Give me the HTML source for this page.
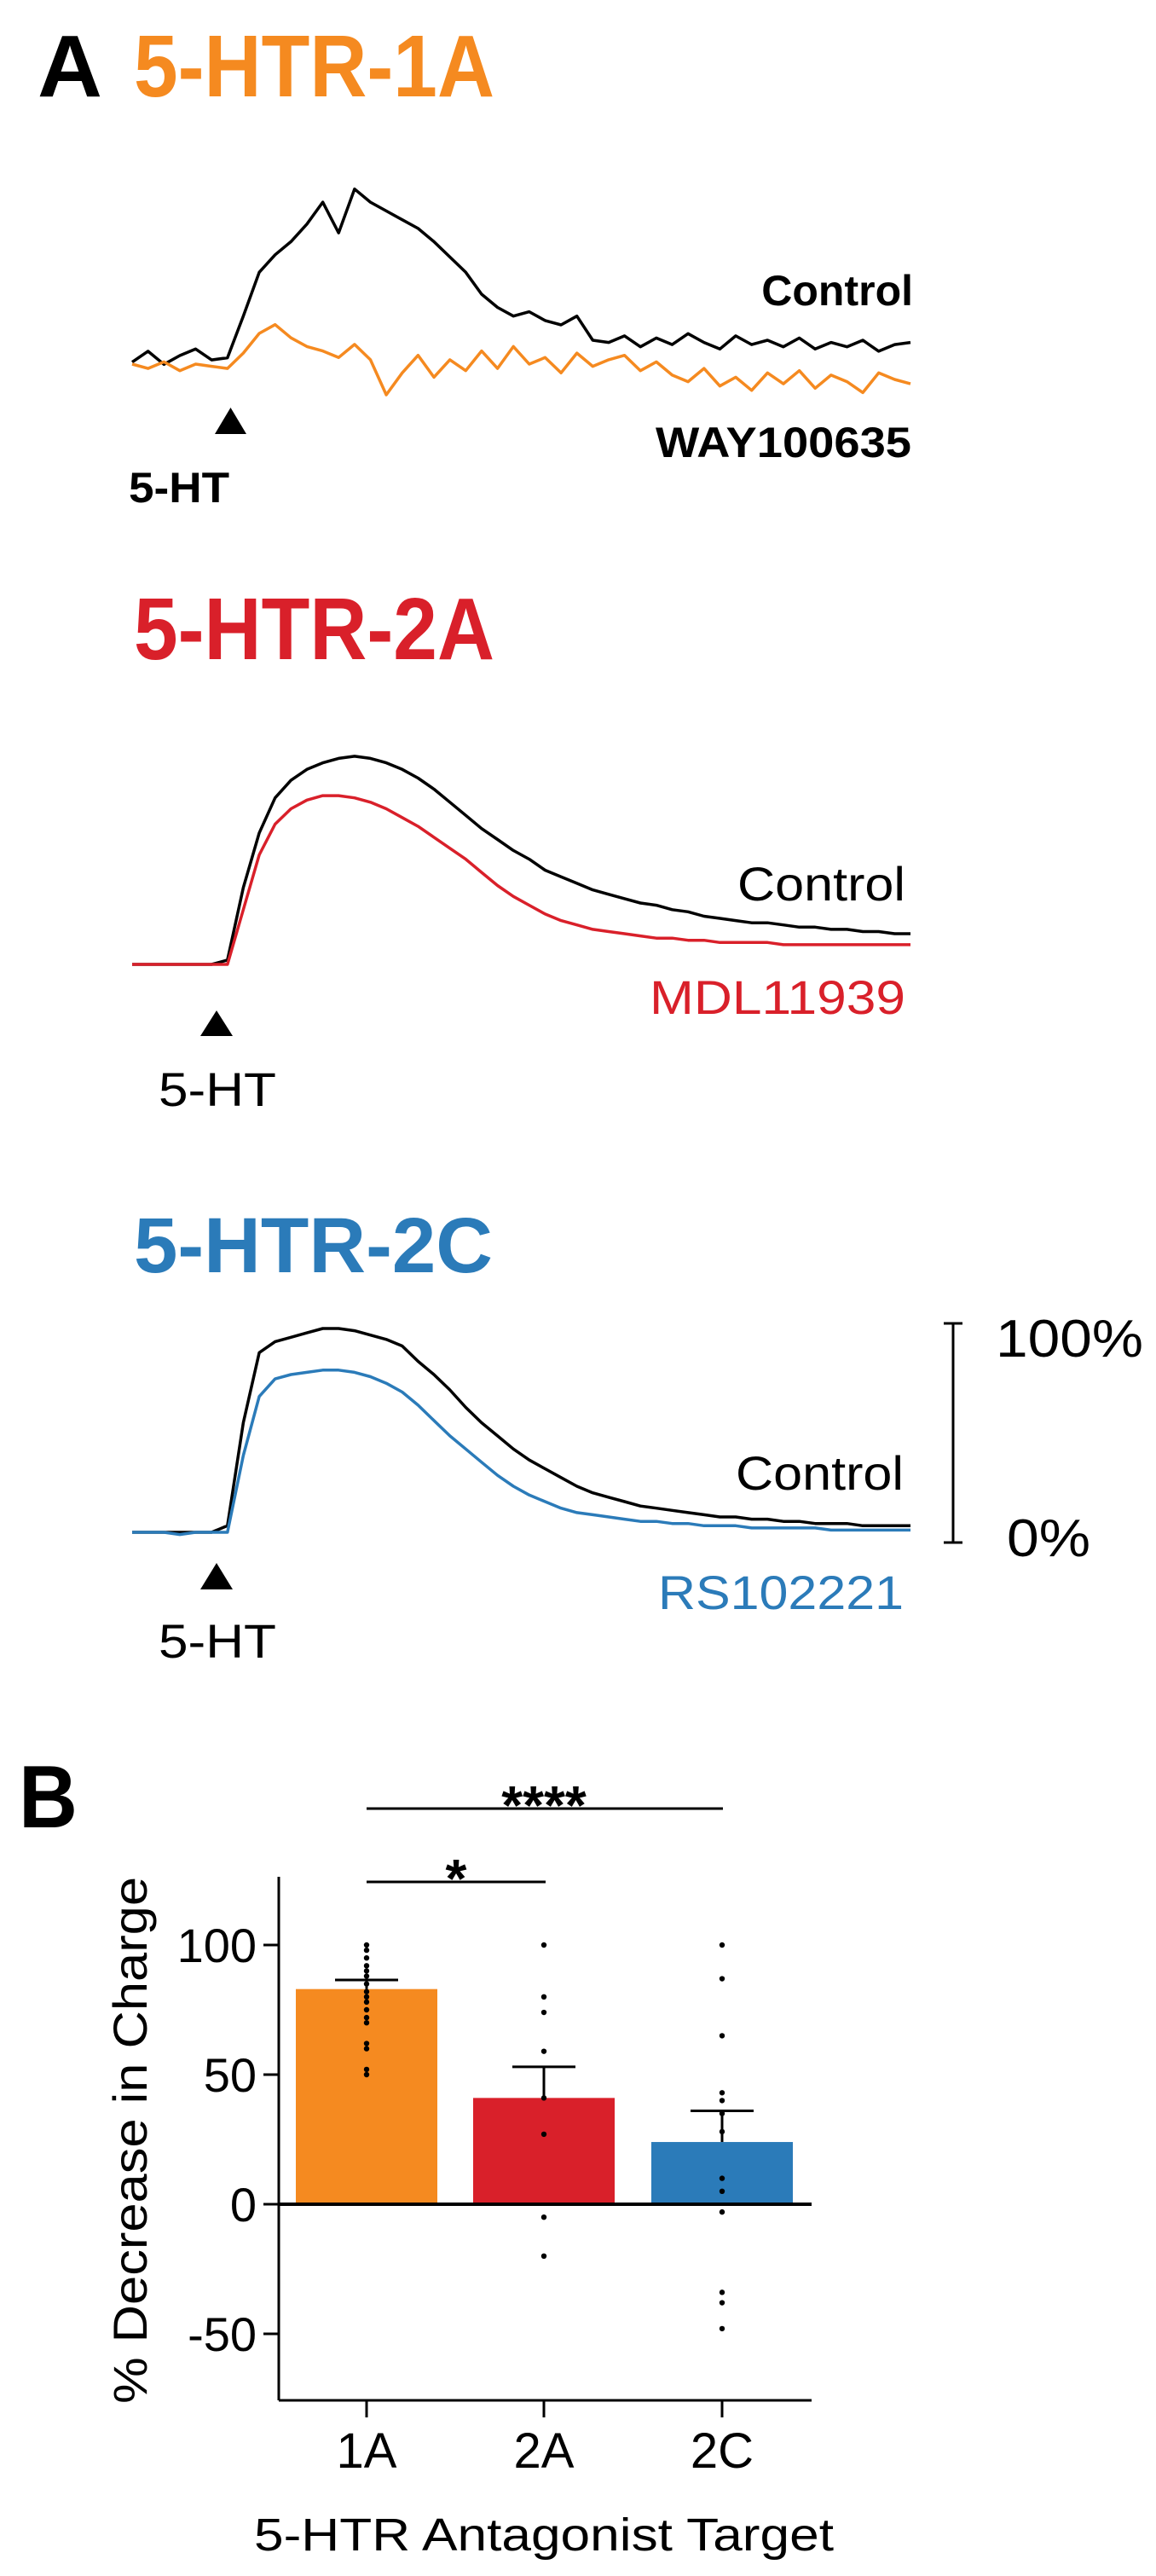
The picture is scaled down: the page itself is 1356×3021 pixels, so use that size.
<!DOCTYPE html>
<html><head><meta charset="utf-8"><style>
html,body{margin:0;padding:0;background:#fff;}
svg{display:block;font-family:"Liberation Sans",Arial,sans-serif;}
</style></head><body>
<svg id="fig" width="1356" height="3021" viewBox="0 0 1356 3021" xmlns="http://www.w3.org/2000/svg">
<g>
<text x="44" y="113" font-size="103" font-weight="bold" textLength="76" lengthAdjust="spacingAndGlyphs">A</text>
<text x="157" y="113" font-size="103" font-weight="bold" fill="#f58a20" textLength="423" lengthAdjust="spacingAndGlyphs">5-HTR-1A</text>
<text x="1071" y="358" font-size="50" font-weight="bold" text-anchor="end">Control</text>
<text x="769" y="536" font-size="50" font-weight="bold" textLength="300" lengthAdjust="spacingAndGlyphs">WAY100635</text>
<path d="M252,509 L289,509 L270.5,478 Z" fill="#000"/>
<text x="151" y="589" font-size="50" font-weight="bold" textLength="118" lengthAdjust="spacingAndGlyphs">5-HT</text>

<text x="157" y="773" font-size="103" font-weight="bold" fill="#d9202a" textLength="423" lengthAdjust="spacingAndGlyphs">5-HTR-2A</text>
<text x="1062" y="1056" font-size="56" text-anchor="end" textLength="197" lengthAdjust="spacingAndGlyphs">Control</text>
<text x="1062" y="1189" font-size="56" fill="#d9202a" text-anchor="end" textLength="300" lengthAdjust="spacingAndGlyphs">MDL11939</text>
<path d="M235,1215 L273,1215 L254,1185 Z" fill="#000"/>
<text x="186" y="1297" font-size="56" textLength="138" lengthAdjust="spacingAndGlyphs">5-HT</text>

<text x="157" y="1492" font-size="92" font-weight="bold" fill="#2b7bb9" textLength="421" lengthAdjust="spacingAndGlyphs">5-HTR-2C</text>
<text x="1060" y="1747" font-size="56" text-anchor="end" textLength="197" lengthAdjust="spacingAndGlyphs">Control</text>
<text x="1060" y="1887" font-size="56" fill="#2b7bb9" text-anchor="end" textLength="288" lengthAdjust="spacingAndGlyphs">RS102221</text>
<path d="M235,1864 L273,1864 L254,1833 Z" fill="#000"/>
<text x="186" y="1944" font-size="56" textLength="138" lengthAdjust="spacingAndGlyphs">5-HT</text>
<g stroke="#000" stroke-width="3">
<line x1="1118" y1="1552" x2="1118" y2="1809"/><line x1="1107" y1="1552" x2="1129" y2="1552"/><line x1="1107" y1="1809" x2="1129" y2="1809"/>
</g>
<text x="1168" y="1591" font-size="62" textLength="173" lengthAdjust="spacingAndGlyphs">100%</text>
<text x="1181" y="1825" font-size="62" textLength="98" lengthAdjust="spacingAndGlyphs">0%</text>
<g id="traces"></g>
</g>

<g>
<text x="22" y="2143" font-size="104" font-weight="bold" textLength="69" lengthAdjust="spacingAndGlyphs">B</text>
<g id="bars"></g>
<text transform="translate(172,2510) rotate(-90)" font-size="56" text-anchor="middle" textLength="618" lengthAdjust="spacingAndGlyphs">% Decrease in Charge</text>
<text x="638" y="2991" font-size="54" text-anchor="middle" textLength="680" lengthAdjust="spacingAndGlyphs">5-HTR Antagonist Target</text>
<line x1="430" y1="2121" x2="848" y2="2121" stroke="#000" stroke-width="3"/>
<text x="638" y="2139" font-size="64" font-weight="bold" text-anchor="middle">****</text>
<line x1="430" y1="2207" x2="640" y2="2207" stroke="#000" stroke-width="3"/>
<text x="535" y="2225" font-size="64" font-weight="bold" text-anchor="middle">*</text>
</g>
</svg>
<script>
// ---- Trace data (percent of max response), 50 samples each ----
const trace1Control = [-3,2,-4,0,3,-2,-1,18,38,46,52,60,70,56,76,70,66,62,58,52,45,38,28,22,18,20,16,14,18,7,6,9,4,8,5,10,6,3,9,5,7,4,8,3,6,4,7,2,5,6];
const trace1Drug = [0,-2,1,-3,0,-1,-2,5,14,18,12,8,6,3,9,2,-14,-4,4,-6,2,-3,6,-2,8,0,3,-4,5,-1,2,4,-3,1,-5,-8,-2,-10,-6,-12,-4,-9,-3,-11,-5,-8,-13,-4,-7,-9];
const trace2Control = [0,0,0,0,0,0,2,35,60,76,84,89,92,94,95,94,92,89,85,80,74,68,62,57,52,48,43,40,37,34,32,30,28,27,25,24,22,21,20,19,19,18,17,17,16,16,15,15,14,14];
const trace2Drug = [0,0,0,0,0,0,0,25,50,64,71,75,77,77,76,74,71,67,63,58,53,48,42,36,31,27,23,20,18,16,15,14,13,12,12,11,11,10,10,10,10,9,9,9,9,9,9,9,9,9];
const trace3Control = [0,0,0,0,0,0,3,50,82,87,89,91,93,93,92,90,88,85,78,72,65,57,50,44,38,33,29,25,21,18,16,14,12,11,10,9,8,7,7,6,6,5,5,4,4,4,3,3,3,3];
const trace3Drug = [0,0,0,-1,0,0,0,35,62,70,72,73,74,74,73,71,68,64,58,51,44,38,32,26,21,17,14,11,9,8,7,6,5,5,4,4,3,3,3,2,2,2,2,2,1,1,1,1,1,1];

// ---- Bar chart data ----
const categories = ["1A","2A","2C"];
const means = [83,41,24];
const errTops = [86.5,53,36];
const dots1A = [100,98,95,92,90,88,85,82,80,78,75,72,70,62,60,52,50];
const dots2A = [100,80,74,59,41,27,-5,-20];
const dots2C = [100,87,65,43,40,35,28,10,5,-3,-34,-38,-48];
const yTicks = [100,50,0,-50];

const NS = "http://www.w3.org/2000/svg";
function mk(tag, attrs){const e=document.createElementNS(NS,tag);for(const k in attrs)e.setAttribute(k,attrs[k]);return e;}

// Traces
const tg = document.getElementById('traces');
const txStart=155, txEnd=1068, pxPerPct=2.57;
function tx(i,n){return txStart+(txEnd-txStart)*i/(n-1);}
function drawTrace(data, base, color, name){
  const pts = data.map((v,i)=>tx(i,data.length).toFixed(1)+","+(base - v*pxPerPct).toFixed(1)).join(" ");
  const pl = mk('polyline',{points:pts,fill:'none',stroke:color,'stroke-width':3.5,'stroke-linejoin':'round'});
  
  
  tg.appendChild(pl);
}
drawTrace(trace1Control,417,'#000','trace-1a-control');
drawTrace(trace1Drug,427,'#f58a20','trace-1a-way100635');
drawTrace(trace2Control,1131,'#000','trace-2a-control');
drawTrace(trace2Drug,1131,'#d9202a','trace-2a-mdl11939');
drawTrace(trace3Control,1797,'#000','trace-2c-control');
drawTrace(trace3Drug,1797,'#2b7bb9','trace-2c-rs102221');

// Bar chart
const bg = document.getElementById('bars');
const axX=327, axRight=952, axTop=2201, axBottom=2815;
const y0px=2585, pxPerUnit=152/50;
function ys(v){return y0px - v*pxPerUnit;}
const centers=[430,638,847], barW=166;
const colors=['#f58a20','#d9202a','#2b7bb9'];
const allDots=[dots1A,dots2A,dots2C];
categories.forEach((c,i)=>{
  const top=Math.min(ys(means[i]),y0px), h=Math.abs(ys(means[i])-y0px);
  const r=mk('rect',{x:centers[i]-barW/2,y:top,width:barW,height:h,fill:colors[i]});
  
  
  bg.appendChild(r);
});
allDots.forEach((arr,i)=>{
  arr.forEach(v=>{
    const d=mk('circle',{cx:centers[i],cy:ys(v),r:3.2,fill:'#000'});
    
    
    bg.appendChild(d);
  });
});
categories.forEach((c,i)=>{
  const v=mk('line',{x1:centers[i],x2:centers[i],y1:ys(means[i]),y2:ys(errTops[i]),stroke:'#000','stroke-width':3});
  
  
  bg.appendChild(v);
  const cap=mk('line',{x1:centers[i]-37,x2:centers[i]+37,y1:ys(errTops[i]),y2:ys(errTops[i]),stroke:'#000','stroke-width':3});
  
  
  bg.appendChild(cap);
});
// axes
const yAxis=mk('line',{x1:axX,x2:axX,y1:axTop,y2:axBottom,stroke:'#000','stroke-width':3});


bg.appendChild(yAxis);
const xAxis=mk('line',{x1:axX,x2:axRight,y1:axBottom,y2:axBottom,stroke:'#000','stroke-width':3});


bg.appendChild(xAxis);
const zero=mk('line',{x1:axX,x2:axRight,y1:ys(0),y2:ys(0),stroke:'#000','stroke-width':4});


bg.appendChild(zero);
yTicks.forEach(t=>{
  const tk=mk('line',{x1:axX-18,x2:axX,y1:ys(t),y2:ys(t),stroke:'#000','stroke-width':3});
  
  
  bg.appendChild(tk);
  const lb=mk('text',{x:axX-26,y:ys(t)+20,'font-size':56,'text-anchor':'end'});
  lb.textContent=String(t);
  
  
  bg.appendChild(lb);
});
categories.forEach((c,i)=>{
  const tk=mk('line',{x1:centers[i],x2:centers[i],y1:axBottom,y2:axBottom+20,stroke:'#000','stroke-width':3});
  
  
  bg.appendChild(tk);
  const lb=mk('text',{x:centers[i],y:2894,'font-size':58,'text-anchor':'middle'});
  lb.textContent=c;
  
  
  bg.appendChild(lb);
});
</script>
</body></html>
